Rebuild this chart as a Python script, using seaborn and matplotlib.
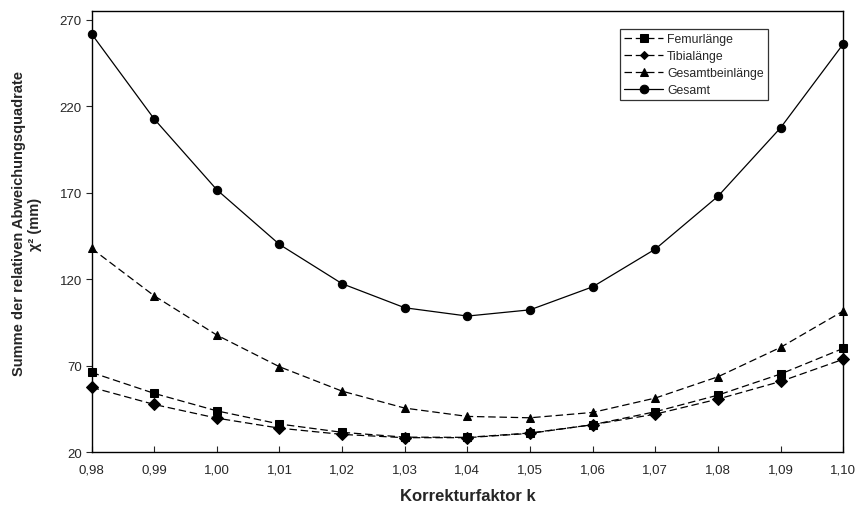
import pandas as pd
import matplotlib
matplotlib.use("Agg")
import matplotlib.pyplot as plt
import seaborn as sns

# Korrekturfaktor k und Summen der Abweichungsquadrate
k_values = [0.98, 0.99, 1.00, 1.01, 1.02, 1.03, 1.04, 1.05, 1.06, 1.07, 1.08, 1.09, 1.10]
k_labels = ["0,98", "0,99", "1,00", "1,01", "1,02", "1,03", "1,04",
            "1,05", "1,06", "1,07", "1,08", "1,09", "1,10"]

femur = [66.2, 54.1, 44.0, 36.4, 31.6, 28.8, 28.7, 31.2, 36.0, 43.5, 53.1, 65.3, 80.1]
tibia = [57.6, 47.7, 39.8, 34.0, 30.4, 28.5, 28.5, 31.0, 36.0, 42.1, 50.8, 61.0, 73.8]
gesamtbein = [137.9, 110.5, 87.8, 69.5, 55.4, 45.6, 40.8, 40.0, 43.1, 51.4, 63.7, 80.7, 101.7]
gesamt = [261.9, 212.7, 171.8, 140.2, 117.5, 103.6, 98.8, 102.4, 115.7, 137.5, 168.0, 207.6, 256.0]

series_names = ["Femurlänge", "Tibialänge", "Gesamtbeinlänge", "Gesamt"]
y_ticks = [20, 70, 120, 170, 220, 270]

df = pd.concat([
    pd.DataFrame({"k": k_values, "chi2": vals, "Reihe": name})
    for name, vals in zip(series_names, [femur, tibia, gesamtbein, gesamt])
], ignore_index=True)

sns.set_style("white")
plt.rcParams["font.family"] = ["Liberation Sans", "DejaVu Sans"]

fig = plt.figure(figsize=(8.56, 5.10), dpi=100)
ax = fig.add_axes([0.107, 0.111, 0.878, 0.865])

markers = {"Femurlänge": "s", "Tibialänge": "D", "Gesamtbeinlänge": "^", "Gesamt": "o"}
dashes = {"Femurlänge": (6, 3), "Tibialänge": (6, 3), "Gesamtbeinlänge": (6, 3), "Gesamt": ""}
sizes_m = {"Femurlänge": 5.5, "Tibialänge": 4.5, "Gesamtbeinlänge": 5.5, "Gesamt": 6.2}

sns.lineplot(
    data=df, x="k", y="chi2",
    hue="Reihe", style="Reihe",
    hue_order=series_names, style_order=series_names,
    palette=["black"] * 4,
    markers=markers, dashes=dashes,
    linewidth=0.9, markersize=6,
    markeredgecolor="black",
    clip_on=False, ax=ax,
)

for line in ax.get_lines():
    lbl = line.get_label()
    if lbl in sizes_m:
        line.set_markersize(sizes_m[lbl])

ax.set_xlim(0.98, 1.10)
ax.set_ylim(20, 275)
ax.set_xticks(k_values)
ax.set_xticklabels(k_labels)
ax.set_yticks(y_ticks)

ax.tick_params(axis="x", direction="in", length=4, width=0.8, labelsize=9.5, pad=8, bottom=True)
ax.tick_params(axis="y", direction="out", length=4, width=0.8, labelsize=9.5, pad=3, left=True)

for sp in ax.spines.values():
    sp.set_visible(True)
    sp.set_color("black")
    sp.set_linewidth(1.0)

ax.set_xlabel("Korrekturfaktor k", fontsize=12, fontweight="bold")
ax.xaxis.set_label_coords(0.5, -0.08)
ax.set_ylabel("Summe der relativen Abweichungsquadrate\nχ² (mm)",
              fontsize=10.5, fontweight="bold", linespacing=1.2)
ax.yaxis.set_label_coords(-0.066, 0.52)

leg = ax.legend(
    loc="upper left", bbox_to_anchor=(0.703, 0.96),
    fontsize=8.8, frameon=True, fancybox=False,
    edgecolor="black", handlelength=3.2, handletextpad=0.3,
    labelspacing=0.4, borderpad=0.35, borderaxespad=0,
)
leg.get_frame().set_linewidth(0.9)
leg.set_title(None)

fig.savefig("out.png", dpi=100)
